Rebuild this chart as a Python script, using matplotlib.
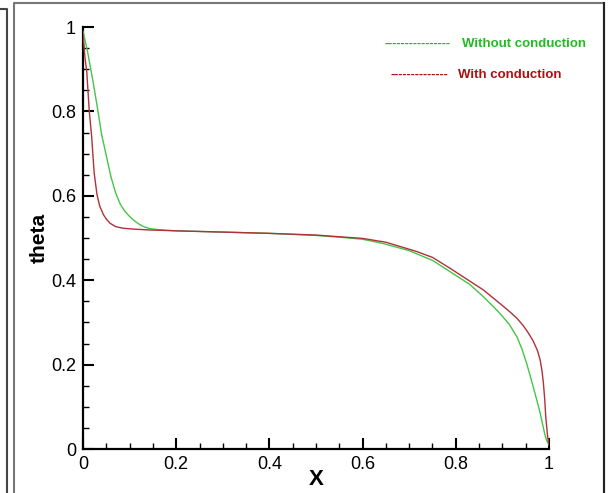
import matplotlib
matplotlib.use("Agg")
import matplotlib.pyplot as plt
from matplotlib.lines import Line2D
from matplotlib.ticker import MultipleLocator, FixedLocator

plt.rcParams['font.family'] = ['Liberation Sans', 'DejaVu Sans']

# Temperature profile along the plate, without wall conduction
x_without = [0.0, 0.005, 0.01, 0.02, 0.03, 0.04, 0.05, 0.06, 0.07, 0.08, 0.09,
             0.10, 0.11, 0.12, 0.13, 0.144, 0.17, 0.2, 0.3, 0.4, 0.5, 0.55,
             0.6, 0.644, 0.7, 0.75, 0.788, 0.83, 0.859, 0.88, 0.895, 0.915,
             0.931, 0.942, 0.952, 0.96, 0.966, 0.974, 0.981, 0.987, 0.991,
             0.995, 1.0]
theta_without = [0.99, 0.965, 0.94, 0.88, 0.815, 0.745, 0.695, 0.645, 0.607,
                 0.58, 0.563, 0.551, 0.541, 0.533, 0.527, 0.522, 0.519, 0.517,
                 0.514, 0.511, 0.506, 0.502, 0.497, 0.487, 0.47, 0.447, 0.42,
                 0.39, 0.361, 0.338, 0.321, 0.295, 0.266, 0.237, 0.203, 0.172,
                 0.148, 0.115, 0.085, 0.055, 0.035, 0.02, 0.01]

# Temperature profile along the plate, with wall conduction
x_with = [0.0, 0.004, 0.008, 0.0135, 0.0186, 0.024, 0.03, 0.036, 0.044,
          0.05, 0.058, 0.07, 0.0866, 0.11, 0.144, 0.2, 0.3, 0.4, 0.5, 0.55,
          0.6, 0.65, 0.716, 0.75, 0.788, 0.82, 0.859, 0.88, 0.9, 0.915,
          0.931, 0.945, 0.955, 0.966, 0.975, 0.981, 0.985, 0.988, 0.991,
          0.993, 0.997, 1.0]
theta_with = [0.985, 0.93, 0.895, 0.80, 0.74, 0.654, 0.603, 0.575, 0.555,
              0.545, 0.535, 0.527, 0.523, 0.521, 0.519, 0.517, 0.514, 0.511,
              0.507, 0.503, 0.499, 0.49, 0.468, 0.454, 0.428, 0.405, 0.377,
              0.358, 0.34, 0.326, 0.31, 0.292, 0.276, 0.256, 0.234, 0.211,
              0.185, 0.156, 0.115, 0.077, 0.03, 0.01]

x_ticks = [0, 0.2, 0.4, 0.6, 0.8, 1]
x_tick_labels = ["0", "0.2", "0.4", "0.6", "0.8", "1"]
y_ticks = [0, 0.2, 0.4, 0.6, 0.8, 1]
y_tick_labels = ["0", "0.2", "0.4", "0.6", "0.8", "1"]

legend_labels = ["Without conduction", "With conduction"]

W, H = 609, 493
fig = plt.figure(figsize=(W / 100, H / 100), dpi=100)
fig.patch.set_facecolor("white")

ax = fig.add_axes([83 / W, (H - 449) / H, 466 / W, 422 / H])
ax.set_xlim(0, 1)
ax.set_ylim(0, 1)

green = "#45c545"
red = "#b0303c"
ax.plot(x_without, theta_without, color=green, lw=1.0, zorder=3)
ax.plot(x_with, theta_with, color=red, lw=1.0, zorder=3)

for side in ("top", "right"):
    ax.spines[side].set_visible(False)
for side in ("left", "bottom"):
    ax.spines[side].set_linewidth(1.6)
    ax.spines[side].set_color("black")

ax.xaxis.set_major_locator(FixedLocator(x_ticks))
ax.set_xticklabels(x_tick_labels)
ax.yaxis.set_major_locator(FixedLocator(y_ticks))
ax.set_yticklabels(y_tick_labels)
ax.xaxis.set_minor_locator(MultipleLocator(0.05))
ax.yaxis.set_minor_locator(MultipleLocator(0.05))
ax.tick_params(which="major", direction="in", length=8, width=1.5,
               labelsize=13, top=False, right=False)
ax.tick_params(which="minor", direction="in", length=4.5, width=1.0,
               top=False, right=False)
ax.tick_params(axis="y", which="major", pad=5)
ax.tick_params(axis="x", which="major", pad=5)
for lab in ax.get_xticklabels() + ax.get_yticklabels():
    lab.set_clip_on(False)

ax.set_xlabel("X", fontsize=16, fontweight="bold")
ax.xaxis.set_label_coords(0.5, -0.048)
ax.set_ylabel("theta", fontsize=15, fontweight="bold")
ax.yaxis.set_label_coords(-0.074, 0.5)

# Legend drawn as dashed text entries
ax.text(0.648, 0.96, "----------------", color="#22bb22", fontsize=9,
        fontweight="bold", va="center", ha="left")
ax.text(0.813, 0.96, legend_labels[0], color="#22bb22", fontsize=9.5,
        fontweight="bold", va="center", ha="left")
ax.text(0.659, 0.886, "--------------", color="#aa1111", fontsize=9,
        fontweight="bold", va="center", ha="left")
ax.text(0.805, 0.886, legend_labels[1], color="#aa1111", fontsize=9.5,
        fontweight="bold", va="center", ha="left")

# Frame lines around the figure
def px_line(xs, ys, color, lw):
    fig.add_artist(Line2D([x / W for x in xs], [1 - y / H for y in ys],
                          color=color, lw=lw, transform=fig.transFigure))

px_line([0, 6.5, 6.5], [9, 9, H], "#444444", 1.5)
px_line([13.5, 13.5, 603.5, 603.5], [H, 2.5, 2.5, H], "#777777", 1.5)
px_line([603.5, 603.5], [2.5, H], "#222222", 1.5)

fig.savefig("out.png", dpi=100)
